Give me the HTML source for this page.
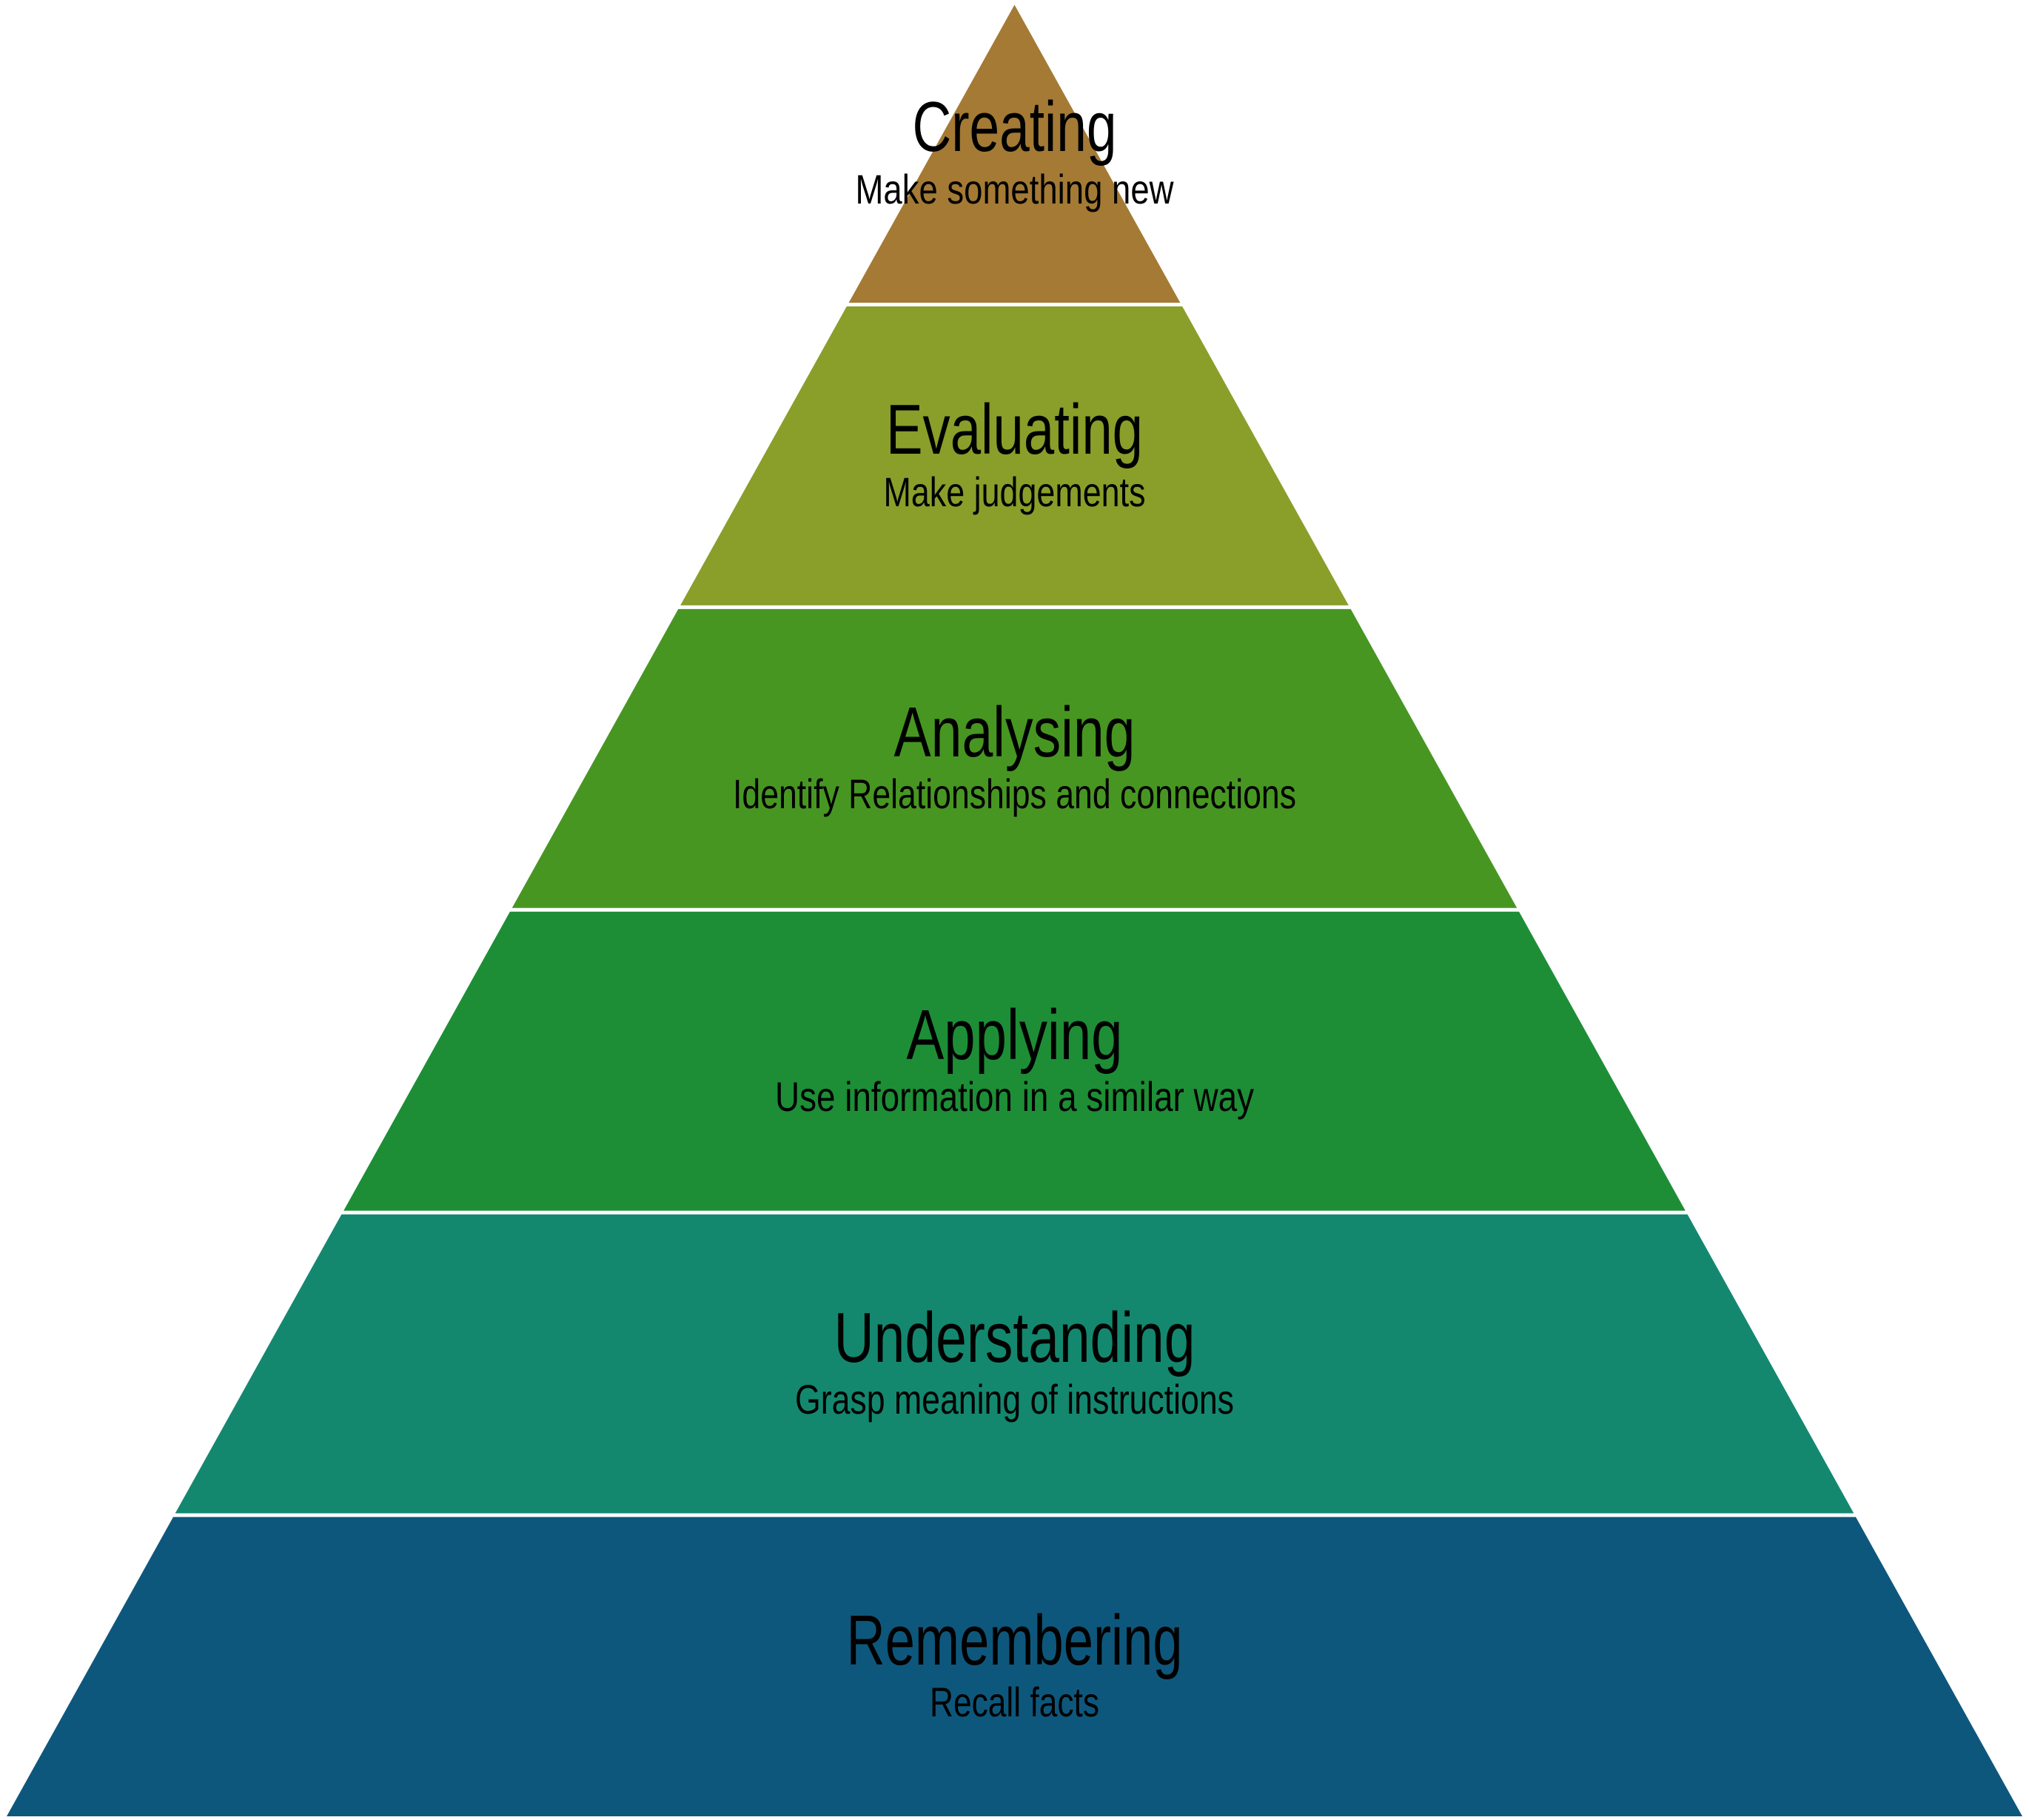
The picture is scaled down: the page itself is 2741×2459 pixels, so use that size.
<!DOCTYPE html>
<html>
<head>
<meta charset="utf-8">
<style>
html,body{margin:0;padding:0;background:#ffffff;}
body{width:2741px;height:2459px;overflow:hidden;}
svg{display:block;}
text{font-family:"Liberation Sans Narrow","Liberation Sans",sans-serif;fill:#000;text-anchor:middle;}
.t{font-size:96px;}
.s{font-size:56px;}
</style>
</head>
<body>
<svg width="2741" height="2459" viewBox="0 0 2741 2459" xmlns="http://www.w3.org/2000/svg">
<rect x="0" y="0" width="2741" height="2459" fill="#ffffff"/>
<polygon points="1370.5,6.5 1594.4,409 1146.6,409" fill="#A47A34"/>
<polygon points="1143.8,414 1597.2,414 1821.9,817.9 919.1,817.9" fill="#8A9E2A"/>
<polygon points="916.3,822.9 1824.7,822.9 2049.3,1226.8 691.7,1226.8" fill="#479622"/>
<polygon points="688.9,1231.8 2052.1,1231.8 2276.8,1635.7 464.2,1635.7" fill="#1D8E36"/>
<polygon points="461.4,1640.7 2279.6,1640.7 2504.3,2044.6 236.7,2044.6" fill="#13886F"/>
<polygon points="234.0,2049.6 2507.0,2049.6 2732,2454 9,2454" fill="#0E577C"/>

<text class="t" x="1370.5" y="204" textLength="276" lengthAdjust="spacingAndGlyphs">Creating</text>
<text class="s" x="1370.5" y="275" textLength="430" lengthAdjust="spacingAndGlyphs">Make something new</text>

<text class="t" x="1370.5" y="613" textLength="347" lengthAdjust="spacingAndGlyphs">Evaluating</text>
<text class="s" x="1370.5" y="684" textLength="354" lengthAdjust="spacingAndGlyphs">Make judgements</text>

<text class="t" x="1370.5" y="1022" textLength="326" lengthAdjust="spacingAndGlyphs">Analysing</text>
<text class="s" x="1370.5" y="1092" textLength="761" lengthAdjust="spacingAndGlyphs">Identify Relationships and connections</text>

<text class="t" x="1370.5" y="1431" textLength="292" lengthAdjust="spacingAndGlyphs">Applying</text>
<text class="s" x="1370.5" y="1501" textLength="647" lengthAdjust="spacingAndGlyphs">Use information in a similar way</text>

<text class="t" x="1370.5" y="1840" textLength="488" lengthAdjust="spacingAndGlyphs">Understanding</text>
<text class="s" x="1370.5" y="1910" textLength="593" lengthAdjust="spacingAndGlyphs">Grasp meaning of instructions</text>

<text class="t" x="1370.5" y="2249" textLength="454" lengthAdjust="spacingAndGlyphs">Remembering</text>
<text class="s" x="1370.5" y="2319" textLength="229" lengthAdjust="spacingAndGlyphs">Recall facts</text>
</svg>
</body>
</html>
